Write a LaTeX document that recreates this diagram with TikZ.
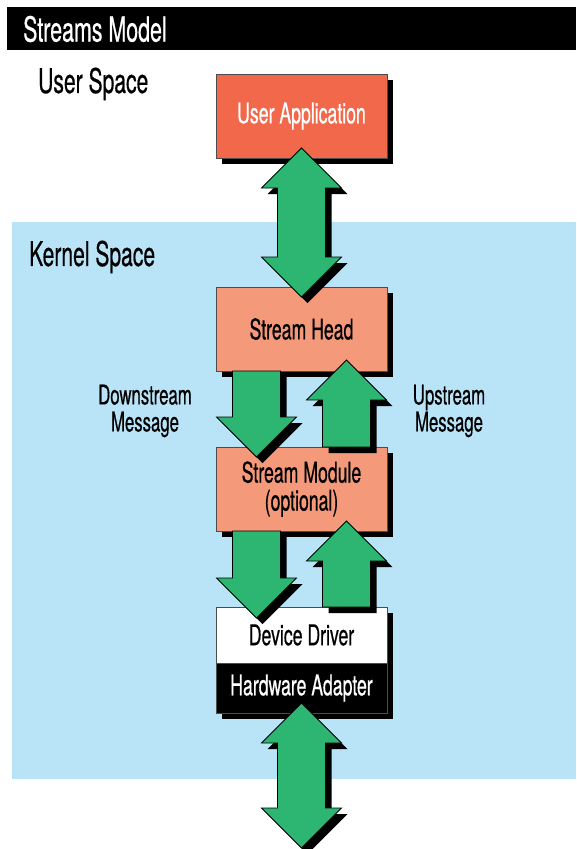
\documentclass[tikz,border=0pt]{standalone}
\usepackage{fontspec}
\setmainfont{TeX Gyre Heros}[FakeStretch=0.62, FakeBold=0.5]
\usetikzlibrary{positioning,calc,shadows}

\definecolor{appred}{HTML}{F1684A}
\definecolor{salmon}{HTML}{F5997B}
\definecolor{fatgreen}{HTML}{2DB672}
\definecolor{kernelblue}{HTML}{B9E4F8}

\tikzset{
  box/.style={draw=black!70, line width=0.8pt, minimum width=171pt, minimum height=84pt,
    inner sep=0pt, outer sep=0pt, font=\fontsize{28.5}{28}\selectfont, align=center,
    drop shadow={shadow xshift=6pt, shadow yshift=-6pt, fill=black, opacity=1}},
  fat/.style={draw=black, line width=0.8pt, fill=fatgreen, line join=miter,
    drop shadow={shadow xshift=6pt, shadow yshift=-6pt, fill=black, opacity=1}},
  fatdown/.style={to path={let \p1=(\tikztostart), \p2=(\tikztotarget) in
    (\x1-24pt,\y1) -- (\x1-24pt,\y2+40pt) -- (\x1-40pt,\y2+40pt) -- (\x1,\y2)
    -- (\x1+40pt,\y2+40pt) -- (\x1+24pt,\y2+40pt) -- (\x1+24pt,\y1) -- cycle}},
  fatup/.style={to path={let \p1=(\tikztostart), \p2=(\tikztotarget) in
    (\x1-24pt,\y1) -- (\x1-24pt,\y2-40pt) -- (\x1-40pt,\y2-40pt) -- (\x1,\y2)
    -- (\x1+40pt,\y2-40pt) -- (\x1+24pt,\y2-40pt) -- (\x1+24pt,\y1) -- cycle}},
  fatboth/.style={to path={let \p1=(\tikztostart), \p2=(\tikztotarget) in
    (\x1,\y1) -- (\x1+40pt,\y1-40pt) -- (\x1+24pt,\y1-40pt) -- (\x1+24pt,\y2+40pt)
    -- (\x1+40pt,\y2+40pt) -- (\x1,\y2) -- (\x1-40pt,\y2+40pt) -- (\x1-24pt,\y2+40pt)
    -- (\x1-24pt,\y1-40pt) -- (\x1-40pt,\y1-40pt) -- cycle}},
  spacelabel/.style={anchor=west, inner sep=0pt, font=\fontsize{34}{34}\selectfont},
  msglabel/.style={align=center, inner sep=0pt, font=\fontsize{27}{27}\selectfont}
}

\begin{document}
\begin{tikzpicture}[x=1pt, y=-1pt]
  \useasboundingbox (0,0) rectangle (576,849);

  % Background
  \fill[black] (7,7) rectangle (576,50);
  \fill[kernelblue] (12,222) rectangle (576,779);

  % Define nodes
  \node[anchor=west, inner sep=0pt, text=white, font=\fontsize{34.5}{34}\selectfont] (title) at (23,29) {Streams Model};
  \node[spacelabel] (user) at (38,84) {User Space};
  \node[spacelabel] (kernel) at (29,257) {Kernel Space};

  \node[box, fill=appred, text=white]              (uapp)  at (301.5,116) {User Application};
  \node[box, fill=salmon, below=129pt of uapp]      (shead) {Stream Head};
  \node[box, fill=salmon, below=76pt of shead]      (smod)  {Stream Module\\(optional)};
  \node[box, fill=white, minimum height=56pt, below=76pt of smod] (drv) {Device Driver};
  \node[box, fill=black, text=white, minimum height=50pt, below=0pt of drv] (hw) {Hardware Adapter};
  \coordinate (out) at (301.5,848);

  \node[msglabel] (down) at (145,411) {Downstream\\Message};
  \node[msglabel] (up)   at (449,411) {Upstream\\Message};

  % Connect the nodes
  \draw[fat, fatboth] ([yshift=10pt]uapp.south) to ([yshift=-10pt]shead.north);
  \draw[fat, fatdown] ([xshift=-45pt]shead.south) to ([xshift=-45pt,yshift=-10pt]smod.north);
  \draw[fat, fatup]   ([xshift=45pt]smod.north) to ([xshift=45pt,yshift=11pt]shead.south);
  \draw[fat, fatdown] ([xshift=-45pt]smod.south) to ([xshift=-45pt,yshift=-11pt]drv.north);
  \draw[fat, fatup]   ([xshift=45pt]drv.north) to ([xshift=45pt,yshift=10pt]smod.south);
  \draw[fat, fatboth] ([yshift=10pt]hw.south) to (out);

\end{tikzpicture}
\end{document}
